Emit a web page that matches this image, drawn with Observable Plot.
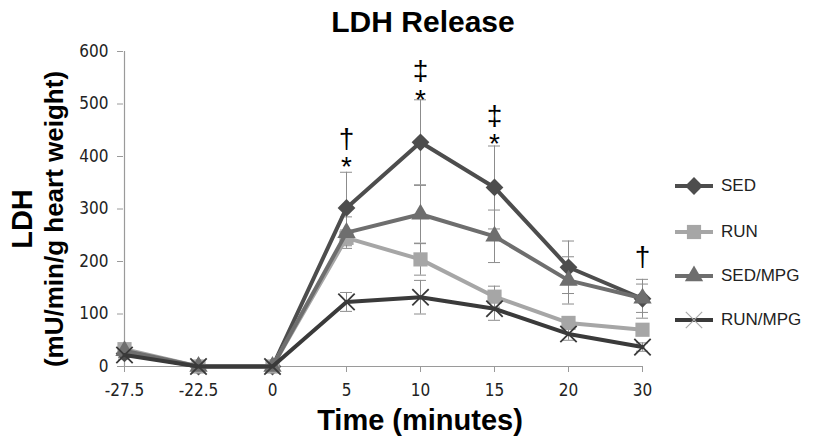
<!DOCTYPE html>
<html>
<head>
<meta charset="utf-8">
<script src="https://cdn.jsdelivr.net/npm/d3@7"></script>
<script src="https://cdn.jsdelivr.net/npm/@observablehq/plot@0.6"></script>
<style>
  html, body { margin: 0; padding: 0; background: #fff; }
  #wrap { position: relative; width: 815px; height: 445px; }
  #legend { position: absolute; left: 672px; top: 0; font-family: "Liberation Sans", Arial, sans-serif; font-size: 17px; color: #222; }
  .row { position: absolute; left: 0; width: 140px; height: 22px; }
  .row svg { position: absolute; left: 0; top: 0; }
  .row span { position: absolute; left: 49px; top: 1px; white-space: nowrap; }
</style>
</head>
<body>
<div id="wrap"><div id="legend"></div></div>
<script>
// ---- data ----
const categories = ["-27.5", "-22.5", "0", "5", "10", "15", "20", "30"];
const seriesNames = ["SED", "RUN", "SED/MPG", "RUN/MPG"];
const sedValues    = [25, 0, 0, 302, 427, 341, 189, 129];
const runValues    = [33, 0, 0, 245, 204, 133, 83, 70];
const sedMpgValues = [30, 0, 0, 255, 290, 248, 164, 130];
const runMpgValues = [22, 0, 0, 123, 132, 110, 62, 37];
const sedErr    = [8, 0, 0, 68, 81, 79, 50, 37];
const runErr    = [8, 0, 0, 15, 30, 20, 12, 10];
const sedMpgErr = [8, 0, 0, 30, 55, 50, 45, 27];
const runMpgErr = [8, 0, 0, 18, 32, 22, 12, 8];
const annotations = [
  {t: "5", y: 433, text: "†"}, {t: "5", y: 380, text: "*"},
  {t: "10", y: 562, text: "‡"}, {t: "10", y: 508, text: "*"},
  {t: "15", y: 478, text: "‡"}, {t: "15", y: 423, text: "*"},
  {t: "30", y: 208, text: "†"}
];
const yTicks = [0, 100, 200, 300, 400, 500, 600];

// ---- styles ----
const colors = ["#4d4d4d", "#a6a6a6", "#6e6e6e", "#3a3a3a"];
const symbols = ["diamond2", "square", "triangle", "times"];
const radii = [8, 8, 6.8, 7.5];

const valueSets = [sedValues, runValues, sedMpgValues, runMpgValues];
const errSets = [sedErr, runErr, sedMpgErr, runMpgErr];
const rows = [];
seriesNames.forEach((s, si) => categories.forEach((t, i) => rows.push({series: s, si, t, v: valueSets[si][i], e: errSets[si][i]})));
const errRows = rows.filter(d => d.e > 0);

const narrow = "'DejaVu Sans Condensed', 'Liberation Sans Narrow', 'Liberation Sans', Arial, sans-serif";
const sans = "'Liberation Sans', Arial, sans-serif";
const marks = [
  Plot.ruleY([0], {stroke: "#9a9a9a", strokeWidth: 1.2}),
  Plot.ruleX([categories[0]], {stroke: "#9a9a9a", strokeWidth: 1.2}),
  Plot.axisX({tickSize: 6, tickPadding: 11, stroke: "#9a9a9a", fill: "#222", fontSize: 17, fontFamily: narrow, label: null}),
  Plot.axisY({ticks: yTicks, tickSize: 6, tickPadding: 9, stroke: "#9a9a9a", fill: "#222", fontSize: 17, fontFamily: narrow, label: null}),
  // error bars
  Plot.ruleX(errRows, {x: "t", y1: d => d.v - d.e, y2: d => d.v + d.e, stroke: "#8c8c8c", strokeWidth: 1}),
  Plot.ruleY(errRows, {x1: "t", x2: "t", y: d => d.v + d.e, insetLeft: -6, insetRight: -6, stroke: "#8c8c8c", strokeWidth: 1}),
  Plot.ruleY(errRows, {x1: "t", x2: "t", y: d => d.v - d.e, insetLeft: -6, insetRight: -6, stroke: "#8c8c8c", strokeWidth: 1})
];
seriesNames.forEach((s, si) => {
  const data = rows.filter(d => d.si === si);
  marks.push(Plot.line(data, {x: "t", y: "v", stroke: colors[si], strokeWidth: 4}));
  if (symbols[si] === "times") {
    marks.push(Plot.dot(data, {x: "t", y: "v", symbol: "times", r: radii[si], stroke: colors[si], strokeWidth: 1.8}));
  } else {
    marks.push(Plot.dot(data, {x: "t", y: "v", symbol: symbols[si], r: radii[si], fill: colors[si], stroke: "none"}));
  }
});
marks.push(Plot.text(annotations, {x: "t", y: "y", text: "text", fontSize: 28, fill: "#000", fontFamily: sans}));
// titles
marks.push(Plot.text(["LDH Release"], {frameAnchor: "top", textAnchor: "middle", lineAnchor: "middle", dx: 40, dy: -29, fontSize: 30, fontWeight: "bold", fill: "#000", fontFamily: sans}));
marks.push(Plot.text(["Time (minutes)"], {frameAnchor: "bottom", textAnchor: "middle", lineAnchor: "middle", dx: 37, dy: 54, fontSize: 29, fontWeight: "bold", fill: "#000", fontFamily: sans}));
marks.push(Plot.text(["LDH"], {frameAnchor: "left", textAnchor: "middle", lineAnchor: "middle", rotate: -90, dx: -101, dy: 10, fontSize: 29, fontWeight: "bold", fill: "#000", fontFamily: sans}));
marks.push(Plot.text(["(mU/min/g heart weight)"], {frameAnchor: "left", textAnchor: "middle", lineAnchor: "middle", rotate: -90, dx: -69, dy: 10, fontSize: 26, fontWeight: "bold", fill: "#000", fontFamily: sans}));

const chart = Plot.plot({
  width: 815,
  height: 445,
  marginTop: 51,
  marginBottom: 79,
  marginLeft: 123,
  marginRight: 173,
  style: {background: "#fff", overflow: "visible"},
  x: {type: "point", domain: categories, padding: 0, axis: null},
  y: {domain: [0, 600], axis: null},
  marks
});
document.getElementById("wrap").prepend(chart);

// ---- legend ----
const legend = d3.select("#legend");
const legendTops = [175, 221, 265, 309];
const d3Symbols = [d3.symbolDiamond2, d3.symbolSquare, d3.symbolTriangle, d3.symbolTimes];
seriesNames.forEach((s, si) => {
  const row = legend.append("div").attr("class", "row").style("top", legendTops[si] + "px");
  const svg = row.append("svg").attr("width", 46).attr("height", 22);
  svg.append("line").attr("x1", 3).attr("x2", 41).attr("y1", 11).attr("y2", 11).attr("stroke", colors[si]).attr("stroke-width", 4);
  const size = Math.PI * radii[si] * radii[si];
  const p = svg.append("path").attr("d", d3.symbol(d3Symbols[si], size)()).attr("transform", "translate(22,11)");
  if (si === 3) p.attr("fill", "none").attr("stroke", "#aaa").attr("stroke-width", 1.2);
  else p.attr("fill", colors[si]);
  row.append("span").text(s);
});
</script>
</body>
</html>
